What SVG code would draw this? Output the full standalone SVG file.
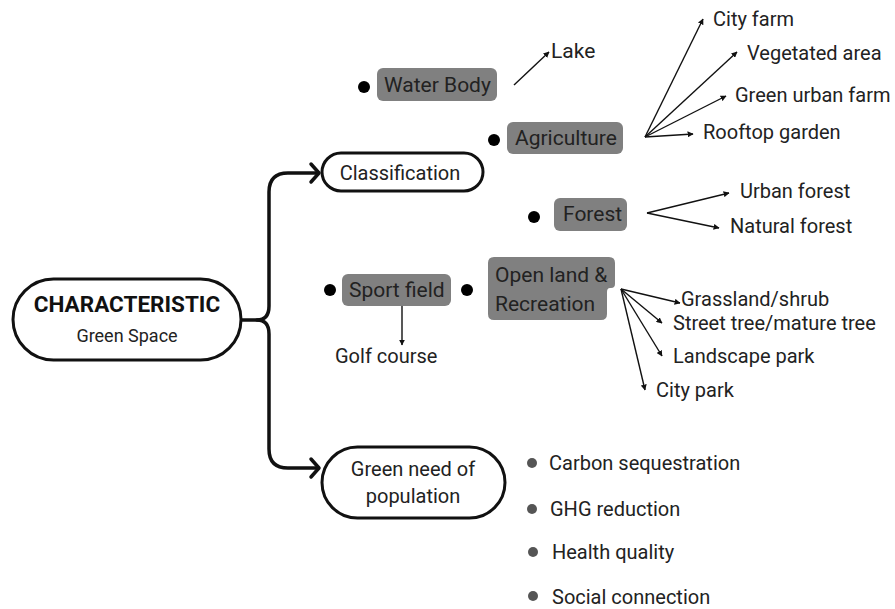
<svg xmlns="http://www.w3.org/2000/svg" width="895" height="609" viewBox="0 0 895 609">
<style>
.pill{fill:#fff;stroke:#111;stroke-width:3}
.box{fill:#808080}
.t{font-family:Roboto,"Liberation Sans",sans-serif;font-size:20px;fill:#222}
.tb{font-family:Roboto,"Liberation Sans",sans-serif;font-size:21px;fill:#222}
.dot{fill:#000}
.gdot{fill:#555}
.trunk{fill:none;stroke:#111;stroke-width:3.5;stroke-linecap:round;stroke-linejoin:round}
.arr{fill:none;stroke:#111;stroke-width:1.4}
</style>
<defs>
<marker id="ah" viewBox="0 0 10 10" refX="9" refY="5" markerWidth="6" markerHeight="6" markerUnits="userSpaceOnUse" orient="auto">
<path d="M0,0 L10,5 L0,10 Z" fill="#111"/>
</marker>
</defs>
<rect width="895" height="609" fill="#fff"/>

<g id="connectors">
<path class="trunk" d="M241,320 H257 Q269,320 269,306 V192 Q269,173 288,173 H318"/>
<path class="trunk" d="M311,164 L319,173 L311,182"/>
<path class="trunk" d="M257,320 Q269,320 269,334 V449 Q269,468 288,468 H318"/>
<path class="trunk" d="M311,459 L319,468 L311,477"/>
<line class="arr" x1="514" y1="85" x2="549" y2="52" marker-end="url(#ah)"/>
<line class="arr" x1="645" y1="137" x2="703" y2="19" marker-end="url(#ah)"/>
<line class="arr" x1="645" y1="137" x2="737" y2="52" marker-end="url(#ah)"/>
<line class="arr" x1="645" y1="137" x2="726" y2="96" marker-end="url(#ah)"/>
<line class="arr" x1="645" y1="137" x2="693" y2="134" marker-end="url(#ah)"/>
<line class="arr" x1="647" y1="213" x2="729" y2="193" marker-end="url(#ah)"/>
<line class="arr" x1="647" y1="213" x2="719" y2="228" marker-end="url(#ah)"/>
<line class="arr" x1="621" y1="289" x2="680" y2="303" marker-end="url(#ah)"/>
<line class="arr" x1="621" y1="289" x2="662" y2="323" marker-end="url(#ah)"/>
<line class="arr" x1="621" y1="289" x2="662" y2="356" marker-end="url(#ah)"/>
<line class="arr" x1="621" y1="289" x2="645" y2="390" marker-end="url(#ah)"/>
<line class="arr" x1="402" y1="304" x2="402" y2="345" marker-end="url(#ah)"/>
</g>

<g id="characteristic">
<rect class="pill" x="13" y="279" width="228" height="81" rx="40.5"/>
<text x="127" y="312" text-anchor="middle" style="font-family:Roboto,'Liberation Sans',sans-serif;font-size:22.5px;font-weight:bold;fill:#111">CHARACTERISTIC</text>
<text x="127" y="342" text-anchor="middle" class="t" style="font-size:18px">Green Space</text>
</g>

<g id="classification">
<rect class="pill" x="322" y="153" width="161" height="38" rx="19"/>
<text x="400" y="180" text-anchor="middle" class="t">Classification</text>
</g>

<g id="green-need">
<rect class="pill" x="322" y="447" width="183" height="71" rx="35.5"/>
<text x="413" y="476" text-anchor="middle" class="t">Green need of</text>
<text x="413" y="503" text-anchor="middle" class="t">population</text>
</g>

<g id="water-body">
<circle class="dot" cx="364" cy="87" r="6"/>
<rect class="box" x="377" y="68" width="120" height="33" rx="6"/>
<text x="384" y="92" class="tb">Water Body</text>
</g>

<g id="lake">
<text x="551" y="58" class="tb">Lake</text>
</g>

<g id="agriculture">
<circle class="dot" cx="494" cy="140" r="6"/>
<rect class="box" x="507" y="122" width="116" height="32" rx="6"/>
<text x="515" y="145" class="tb">Agriculture</text>
</g>

<g id="forest">
<circle class="dot" cx="534" cy="217" r="6"/>
<rect class="box" x="554" y="198" width="73" height="33" rx="6"/>
<text x="563" y="221" class="tb">Forest</text>
</g>

<g id="sport-field">
<circle class="dot" cx="330" cy="290" r="6"/>
<rect class="box" x="342" y="274" width="109" height="32" rx="6"/>
<text x="349" y="297" class="tb">Sport field</text>
</g>

<g id="golf-course">
<text x="335" y="363" class="t">Golf course</text>
</g>

<g id="open-land">
<circle class="dot" cx="467" cy="290" r="6"/>
<path class="box" d="M494,257 H609 Q615,257 615,263 V284 Q615,288 611,288 H610 Q607,288 607,292 V314 Q607,320 601,320 H494 Q488,320 488,314 V263 Q488,257 494,257 Z"/>
<text x="495" y="282" class="tb">Open land &amp;</text>
<text x="495" y="311" class="tb">Recreation</text>
</g>

<g id="city-farm"><text x="713" y="26" class="t">City farm</text></g>
<g id="vegetated-area"><text x="747" y="60" class="t">Vegetated area</text></g>
<g id="green-urban-farm"><text x="735" y="102" class="t">Green urban farm</text></g>
<g id="rooftop-garden"><text x="703" y="139" class="t">Rooftop garden</text></g>
<g id="urban-forest"><text x="740" y="198" class="t">Urban forest</text></g>
<g id="natural-forest"><text x="730" y="233" class="t">Natural forest</text></g>
<g id="grassland"><text x="681" y="306" class="t">Grassland/shrub</text></g>
<g id="street-tree"><text x="673" y="330" class="t">Street tree/mature tree</text></g>
<g id="landscape-park"><text x="673" y="363" class="t">Landscape park</text></g>
<g id="city-park"><text x="656" y="397" class="t">City park</text></g>

<g id="carbon"><circle class="gdot" cx="532" cy="463" r="5"/><text x="549" y="470" class="t">Carbon sequestration</text></g>
<g id="ghg"><circle class="gdot" cx="532" cy="509" r="5"/><text x="550" y="516" class="t">GHG reduction</text></g>
<g id="health"><circle class="gdot" cx="533" cy="552" r="5"/><text x="552" y="559" class="t">Health quality</text></g>
<g id="social"><circle class="gdot" cx="533" cy="596" r="5"/><text x="552" y="604" class="t">Social connection</text></g>
</svg>
